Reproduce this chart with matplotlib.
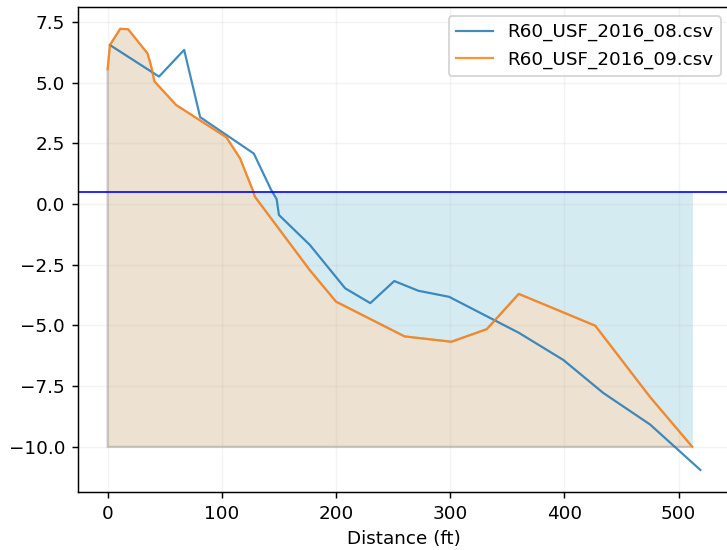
import numpy as np
import matplotlib.pyplot as plt

# survey profiles (distance ft, elevation)
x_08 = [2, 45, 67, 81, 128, 143, 148, 150, 177, 208, 230, 251, 272, 299, 360, 399, 434, 475, 519]
y_08 = [6.55, 5.25, 6.35, 3.58, 2.08, 0.6, 0.2, -0.45, -1.68, -3.47, -4.08, -3.17, -3.57, -3.82, -5.3, -6.42, -7.78, -9.08, -10.95]

x_09 = [0, 2, 11, 18, 35, 38, 41, 60, 104, 116, 127, 129, 177, 200, 260, 301, 332, 360, 427, 475, 512]
y_09 = [5.55, 6.55, 7.22, 7.2, 6.2, 5.7, 5.05, 4.08, 2.75, 1.88, 0.58, 0.3, -2.72, -4.02, -5.45, -5.67, -5.15, -3.7, -5.01, -7.95, -10.0]

labels = ['R60_USF_2016_08.csv', 'R60_USF_2016_09.csv']
water_level = 0.5
base_level = -10.0

dpi = 132
fig = plt.figure(figsize=(727 / dpi, 550 / dpi), dpi=dpi)
ax = fig.add_axes([78 / 727, 58 / 550, 652 / 727, 485.3 / 550])

x9 = np.array(x_09, dtype=float)
y9 = np.array(y_09, dtype=float)

# water area below the line
ax.fill_between(x9, y9, water_level, where=y9 <= water_level, interpolate=True,
                color='lightblue', alpha=0.5, linewidth=0)
# ground polygon
px = np.concatenate([[x9[0]], x9, [x9[-1]]])
py = np.concatenate([[base_level], y9, [base_level]])
ax.fill(px, py, facecolor='tan', alpha=0.4, edgecolor='grey', linewidth=1.2)

ax.plot(x_08, y_08, color='tab:blue', alpha=0.85, lw=1.2, label=labels[0])
ax.plot(x_09, y_09, color='tab:orange', alpha=0.85, lw=1.2, label=labels[1])
ax.axhline(water_level, color='blue', linewidth=0.9)

ax.set_xlabel('Distance (ft)')
ax.set_xticks([0, 100, 200, 300, 400, 500])
ax.set_yticks([-10, -7.5, -5, -2.5, 0, 2.5, 5, 7.5])
ax.grid(alpha=0.15)
ax.legend(loc='upper right')

plt.savefig('out.png', dpi=dpi)
